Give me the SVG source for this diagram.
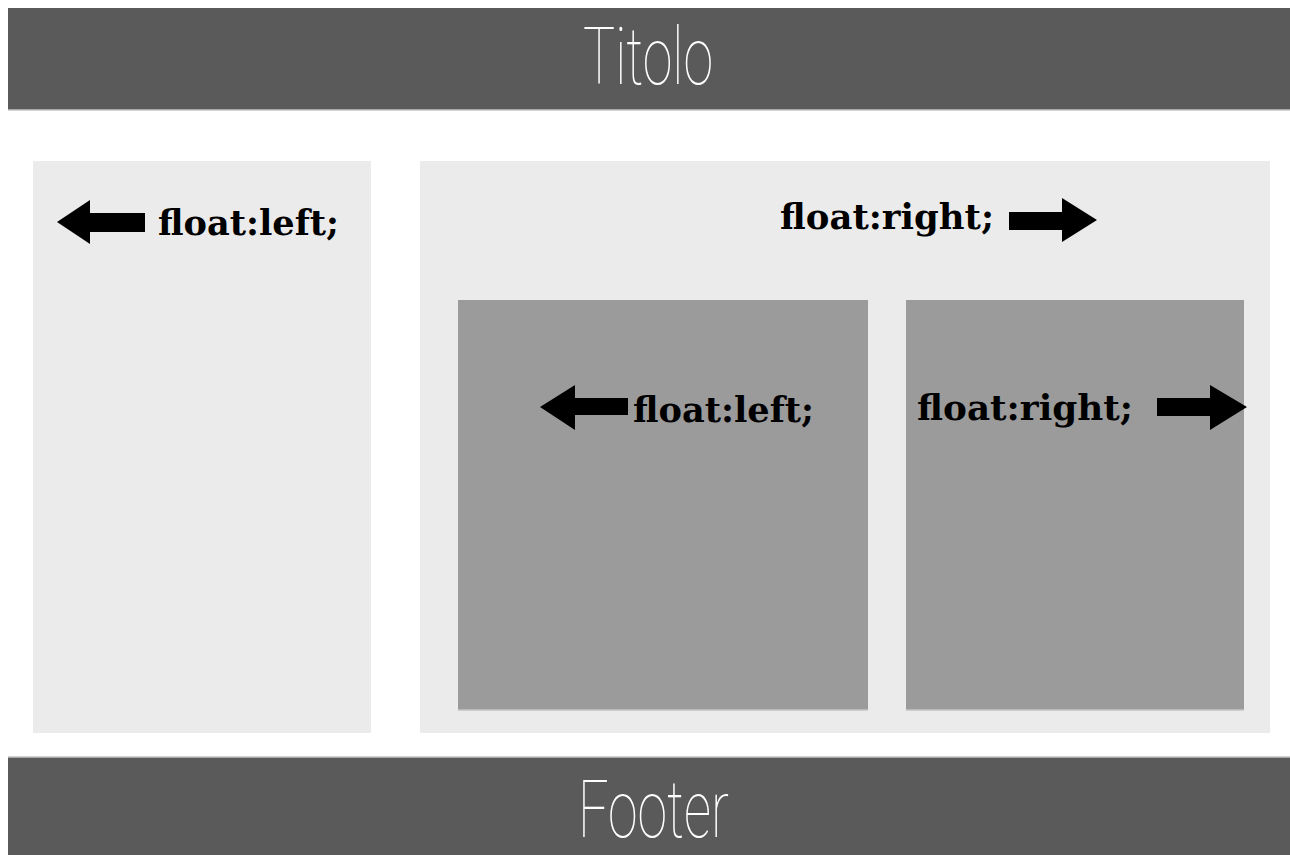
<svg xmlns="http://www.w3.org/2000/svg" width="1290" height="855" viewBox="0 0 1290 855">
<style>
.bar{fill:#5a5a5a}
.panel{fill:#ebebeb}
.inner{fill:#9b9b9b}
.edge{stroke:#c4c4c4;stroke-width:1.5}
.big{font-family:Roboto,"DejaVu Sans",sans-serif;font-weight:100;font-size:79px;fill:#ffffff}
.lbl{font-family:"DejaVu Serif",serif;font-weight:bold;font-size:36px;fill:#000000}
.arr{fill:#000000}
</style>
<rect width="1290" height="855" fill="#ffffff"/>
<g id="header">
<rect class="bar" x="8" y="8" width="1282" height="102"/>
<line class="edge" x1="8" y1="110" x2="1290" y2="110"/>
<text class="big" x="583" y="84" textLength="130" lengthAdjust="spacingAndGlyphs">Titolo</text>
</g>
<g id="left-panel">
<rect class="panel" x="33" y="161" width="338" height="572"/>
<text class="lbl" x="158" y="235" textLength="181" lengthAdjust="spacingAndGlyphs">float:left;</text>
</g>
<g id="right-panel">
<rect class="panel" x="420" y="161" width="850" height="572"/>
<text class="lbl" x="780" y="229" textLength="214" lengthAdjust="spacingAndGlyphs">float:right;</text>
</g>
<g id="inner-left">
<rect class="inner" x="458" y="300" width="410" height="410"/>
<line class="edge" x1="458" y1="710" x2="868" y2="710"/>
<text class="lbl" x="633" y="422" textLength="181" lengthAdjust="spacingAndGlyphs">float:left;</text>
</g>
<g id="inner-right">
<rect class="inner" x="906" y="300" width="338" height="410"/>
<line class="edge" x1="906" y1="710" x2="1244" y2="710"/>
<text class="lbl" x="917" y="420" textLength="216" lengthAdjust="spacingAndGlyphs">float:right;</text>
</g>
<g id="footer">
<rect class="bar" x="8" y="757" width="1282" height="98"/>
<line class="edge" x1="8" y1="757" x2="1290" y2="757"/>
<text class="big" x="578" y="837" textLength="151" lengthAdjust="spacingAndGlyphs">Footer</text>
</g>
<g id="connectors">
<polygon class="arr" points="57,222 90,200 90,213 145,213 145,232 90,232 90,244"/>
<polygon class="arr" points="1097,220 1062,198 1062,212 1009,212 1009,230 1062,230 1062,242"/>
<polygon class="arr" points="540,407 575,385 575,398 628,398 628,415 575,415 575,430"/>
<polygon class="arr" points="1247,407 1210,385 1210,398 1157,398 1157,416 1210,416 1210,430"/>
</g>
</svg>
